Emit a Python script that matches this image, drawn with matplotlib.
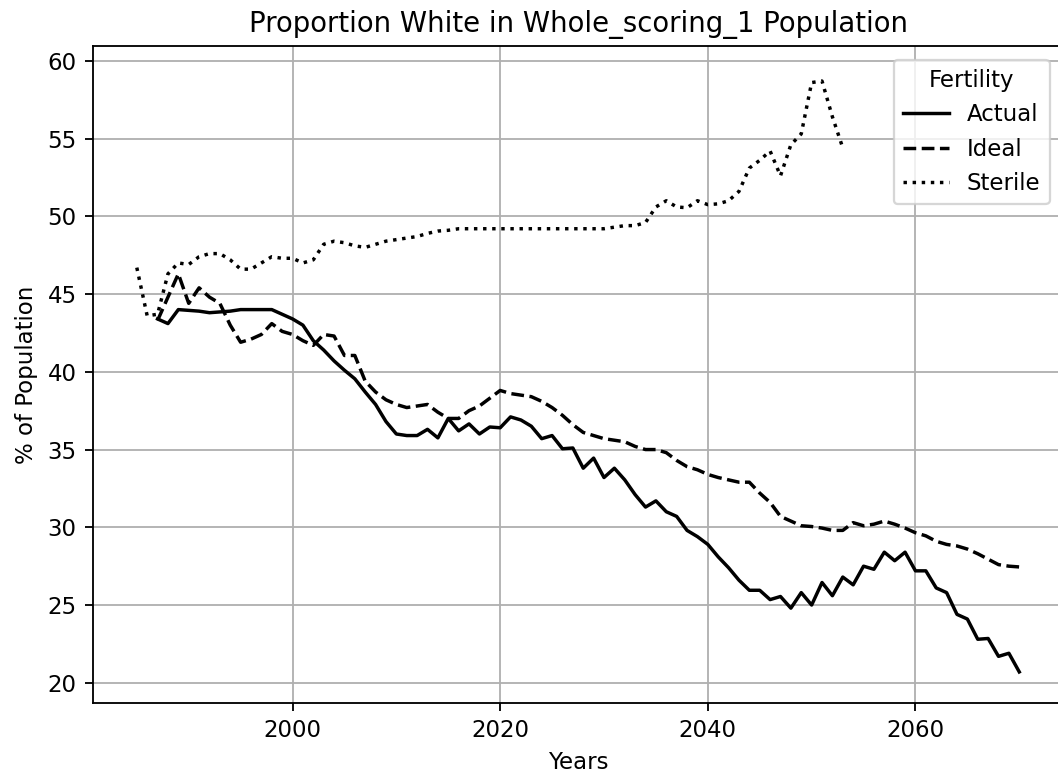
import numpy as np
import matplotlib
matplotlib.use("Agg")
from matplotlib import pyplot as plt

# yearly share of the white population, by fertility scenario
years = list(range(1987, 2071))
actual = [43.4, 43.1, 44.0, 43.95, 43.9, 43.8, 43.85, 43.9, 44.0, 44.0,
          44.0, 44.0, 43.7, 43.4, 43.0, 42.0, 41.4, 40.7, 40.1, 39.55,
          38.7, 37.9, 36.8, 36.0, 35.9, 35.9, 36.3, 35.75, 37.0, 36.2,
          36.65, 36.0, 36.45, 36.4, 37.1, 36.9, 36.5, 35.7, 35.9, 35.05,
          35.1, 33.8, 34.45, 33.2, 33.8, 33.05, 32.1, 31.3, 31.7, 31.0,
          30.7, 29.8, 29.4, 28.9, 28.1, 27.4, 26.6, 25.95, 25.95, 25.35,
          25.55, 24.8, 25.8, 25.0, 26.45, 25.6, 26.8, 26.3, 27.5, 27.3,
          28.4, 27.85, 28.4, 27.2, 27.2, 26.1, 25.8, 24.4, 24.1, 22.8,
          22.85, 21.7, 21.9, 20.7]
ideal = [43.3, 44.8, 46.3, 44.4, 45.4, 44.8, 44.4, 43.0, 41.9, 42.1,
         42.4, 43.1, 42.6, 42.4, 42.0, 41.7, 42.4, 42.3, 41.05, 41.05,
         39.4, 38.7, 38.2, 37.9, 37.7, 37.8, 37.9, 37.4, 37.0, 37.0,
         37.5, 37.8, 38.3, 38.8, 38.6, 38.5, 38.4, 38.1, 37.7, 37.2,
         36.6, 36.1, 35.9, 35.7, 35.6, 35.5, 35.2, 35.0, 35.0, 34.8,
         34.3, 33.9, 33.7, 33.4, 33.2, 33.05, 32.9, 32.9, 32.2, 31.6,
         30.7, 30.4, 30.1, 30.05, 29.95, 29.8, 29.8, 30.3, 30.1, 30.2,
         30.4, 30.2, 29.95, 29.65, 29.45, 29.1, 28.9, 28.8, 28.6, 28.3,
         27.95, 27.6, 27.5, 27.45]

sterile_years = list(range(1985, 2054))
sterile = [46.7, 43.6, 43.7, 46.3, 47.0, 46.9, 47.4, 47.6, 47.6, 47.2,
           46.6, 46.6, 47.0, 47.4, 47.3, 47.3, 47.0, 47.2, 48.2, 48.4,
           48.3, 48.1, 48.0, 48.2, 48.4, 48.5, 48.6, 48.7, 48.9, 49.05,
           49.1, 49.2, 49.2, 49.2, 49.2, 49.2, 49.2, 49.2, 49.2, 49.2,
           49.2, 49.2, 49.2, 49.2, 49.2, 49.2, 49.3, 49.4, 49.4, 49.6,
           50.6, 51.0, 50.6, 50.55, 51.0, 50.75, 50.8, 51.0, 51.6, 53.1,
           53.6, 54.2, 52.6, 54.6, 55.3, 58.6, 58.7, 56.4, 54.4]

fig = plt.figure(figsize=(1058 / 165, 780 / 165), dpi=165)
# right edge of the axes sits just past the figure border
ax = fig.add_axes([0.0876, 0.0987, 0.9175, 0.8423])

ax.plot(years, actual, color='black', linestyle='-', label='Actual')
ax.plot(years, ideal, color='black', linestyle='--', label='Ideal')
ax.plot(sterile_years, sterile, color='black', linestyle=':', label='Sterile')

ax.set_xlim(1980.75, 2074.25)
ax.set_ylim(18.7, 60.95)
ax.set_xticks([2000, 2020, 2040, 2060])
ax.set_yticks(np.arange(20, 61, 5))
ax.grid(True)

ax.set_title("Proportion White in Whole_scoring_1 Population")
ax.set_xlabel("Years")
ax.set_ylabel("% of Population")
ax.legend(title="Fertility", loc='upper right', borderaxespad=0.6)

fig.savefig("out.png", dpi=165)
